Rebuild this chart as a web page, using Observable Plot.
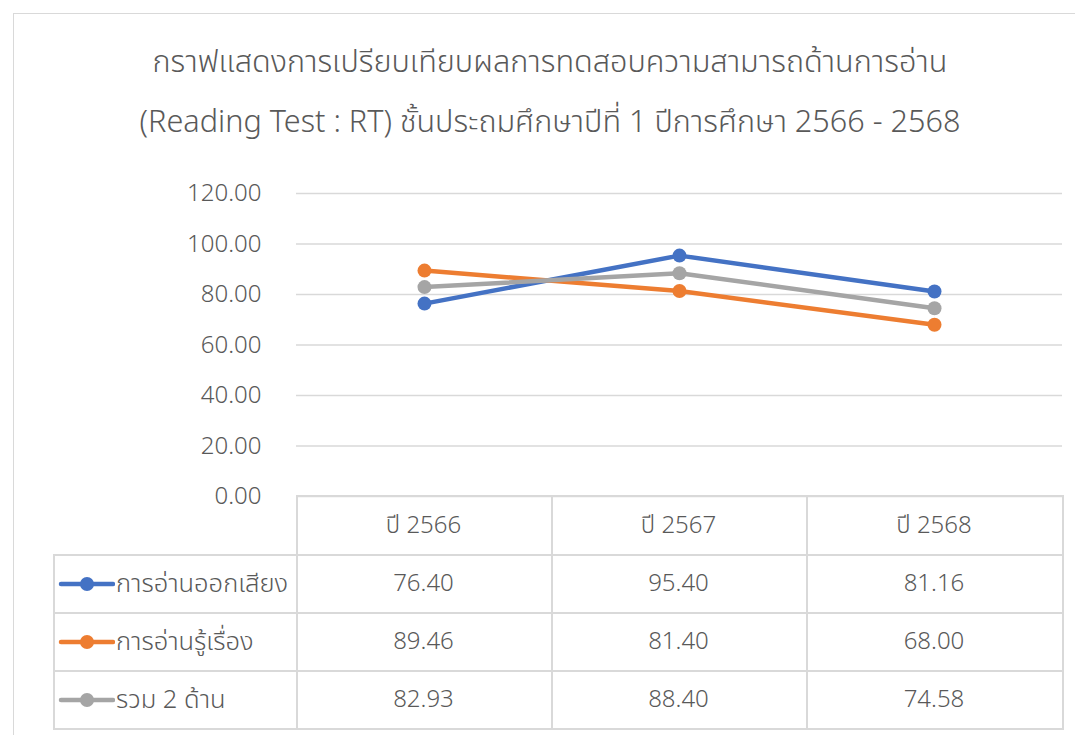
<!DOCTYPE html>
<html>
<head>
<meta charset="utf-8">
<script src="https://cdn.jsdelivr.net/npm/d3@7"></script>
<script src="https://cdn.jsdelivr.net/npm/@observablehq/plot@0.6"></script>
<style>
  html, body { margin: 0; padding: 0; background: #fff; }
  body { width: 1075px; height: 735px; position: relative; overflow: hidden;
         font-family: "Noto Sans Thai", "Noto Sans", "Open Sans", sans-serif; color: #595959; }
  #frame { position: absolute; left: 13px; top: 13px; width: 1100px; height: 800px;
           border-left: 1.5px solid #d9d9d9; border-top: 1.5px solid #d9d9d9; }
  .title { position: absolute; left: 0; width: 1100px; text-align: center; font-size: 30.6px;
           font-weight: 300; color: #595959; white-space: nowrap; }
  #chart { position: absolute; left: 0; top: 170px; }
  .cell { position: absolute; box-sizing: border-box; display: flex; align-items: center;
          justify-content: center; font-size: 24px; font-weight: 300; color: #595959; white-space: nowrap; }
  .hline { position: absolute; height: 2px; background: #d9d9d9; }
  .vline { position: absolute; width: 2px; background: #d9d9d9; }
</style>
</head>
<body>
<div id="frame"></div>
<div class="title" style="top:40px;">กราฟแสดงการเปรียบเทียบผลการทดสอบความสามารถด้านการอ่าน</div>
<div class="title" style="top:100px;">(Reading Test : RT) ชั้นประถมศึกษาปีที่ 1 ปีการศึกษา 2566 - 2568</div>
<div id="chart"></div>
<div id="table"></div>
<script>
const years = ["ปี 2566", "ปี 2567", "ปี 2568"];
const seriesNames = ["การอ่านออกเสียง", "การอ่านรู้เรื่อง", "รวม 2 ด้าน"];
const seriesColors = ["#4472C4", "#ED7D31", "#A5A5A5"];
const readingAloud = [76.40, 95.40, 81.16];
const readingComprehension = [89.46, 81.40, 68.00];
const combined = [82.93, 88.40, 74.58];
const yTicks = [0, 20, 40, 60, 80, 100, 120];

const seriesValues = [readingAloud, readingComprehension, combined];
const data = [];
seriesNames.forEach((s, i) => years.forEach((y, j) => data.push({series: s, year: y, value: seriesValues[i][j]})));

const fmt = d3.format(".2f");

const chart = Plot.plot({
  width: 1075,
  height: 345,
  marginTop: 23,
  marginBottom: 19,
  marginLeft: 296,
  marginRight: 13,
  style: {fontFamily: "'Noto Sans Thai', 'Noto Sans', 'Open Sans', sans-serif", fontSize: "24px", fontWeight: 300, color: "#595959", background: "transparent", overflow: "visible"},
  x: {type: "point", domain: years, padding: 0.5, axis: null},
  y: {domain: [0, 120], ticks: yTicks, tickFormat: fmt, tickSize: 0, tickPadding: 35, label: null},
  color: {domain: seriesNames, range: seriesColors},
  marks: [
    Plot.ruleY(yTicks, {stroke: "#d9d9d9", strokeWidth: 1.5, strokeOpacity: 1}),
    Plot.line(data, {x: "year", y: "value", z: "series", stroke: "series", strokeWidth: 4.5, curve: "linear"}),
    Plot.dot(data, {x: "year", y: "value", fill: "series", r: 7})
  ]
});
document.getElementById("chart").appendChild(chart);

// Data table below the chart
const table = document.getElementById("table");
const colX = [53, 296, 551, 806, 1062];
const rowY = [496, 555, 613, 671, 729];
function add(cls, style, html) {
  const d = document.createElement("div");
  d.className = cls;
  Object.assign(d.style, style);
  if (html !== undefined) d.innerHTML = html;
  table.appendChild(d);
  return d;
}
// header cells
years.forEach((y, j) => {
  add("cell", {left: colX[j + 1] + "px", top: rowY[0] + "px", width: (colX[j + 2] - colX[j + 1]) + "px", height: (rowY[1] - rowY[0]) + "px"}, y);
});
// series rows
seriesNames.forEach((s, i) => {
  const top = rowY[i + 1], h = rowY[i + 2] - rowY[i + 1];
  const leg = add("cell", {left: (colX[0] + 4) + "px", top: top + "px", width: (colX[1] - colX[0] - 4) + "px", height: h + "px", justifyContent: "flex-start", fontSize: "25.5px"});
  leg.innerHTML = `<svg width="58" height="20" style="flex:none"><line x1="4" y1="10" x2="56" y2="10" stroke="${seriesColors[i]}" stroke-width="4.5" stroke-linecap="round"/><circle cx="30" cy="10" r="7" fill="${seriesColors[i]}"/></svg><span style="margin-left:1px">${s}</span>`;
  seriesValues[i].forEach((v, j) => {
    add("cell", {left: colX[j + 1] + "px", top: top + "px", width: (colX[j + 2] - colX[j + 1]) + "px", height: h + "px"}, fmt(v));
  });
});
// borders
add("hline", {left: colX[1] + "px", top: (rowY[0] - 1) + "px", width: (colX[4] - colX[1] + 2) + "px"});
for (let r = 1; r < rowY.length; r++) add("hline", {left: colX[0] + "px", top: (rowY[r] - 1) + "px", width: (colX[4] - colX[0] + 2) + "px"});
add("vline", {left: colX[0] + "px", top: rowY[1] + "px", height: (rowY[4] - rowY[1]) + "px"});
for (let c = 1; c < colX.length; c++) add("vline", {left: colX[c] + "px", top: rowY[0] + "px", height: (rowY[4] - rowY[0]) + "px"});
</script>
</body>
</html>
